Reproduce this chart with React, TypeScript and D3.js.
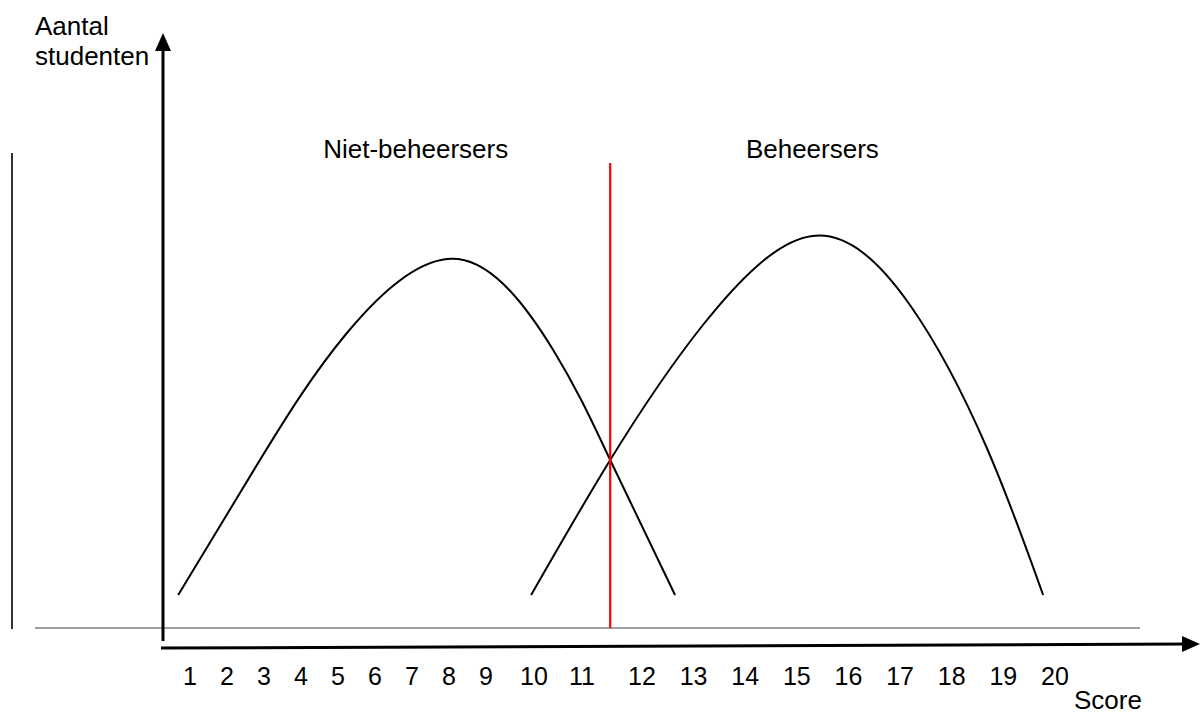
import React, { useEffect, useRef } from "react";
import * as d3 from "d3";

// score ticks along the x axis
const scoreTicks = [1, 2, 3, 4, 5, 6, 7, 8, 9, 10, 11, 12, 13, 14, 15, 16, 17, 18, 19, 20];

// "Niet-beheersers" curve (score, relative count)
const nietScore = [0.68, 2.89, 5.24, 8.25, 10.4, 11.47, 12.64];
const nietCount = [8.25, 42, 73.75, 92.25, 69.5, 42, 8.25];

// "Beheersers" curve
const beheerScore = [9.94, 11.47, 13.18, 15.3, 17.19, 18.68, 19.77];
const beheerCount = [8.25, 42, 75.75, 98, 80.75, 45, 8.25];

const cutoff = 11.47;
const groupLabels = ["Niet-beheersers", "Beheersers"];
const groupLabelScore = [7.1, 15.3];

const FONT = "'Liberation Sans', Arial, sans-serif";

const App = () => {
  const ref = useRef<SVGSVGElement>(null);

  useEffect(() => {
    const svg = d3.select(ref.current);
    svg.selectAll("*").remove();

    const width = 1200, height = 715;
    svg.attr("width", width).attr("height", height);

    // label spacing in the original is uneven, so the scale is piecewise
    const x = d3.scaleLinear().domain([1, 9, 11, 12, 20]).range([190, 486, 582, 642, 1055]);
    const y = d3.scaleLinear().domain([0, 100]).range([628, 228]);

    const g = svg.append("g");

    // stray vertical line on the far left
    g.append("line")
      .attr("x1", 12).attr("x2", 12)
      .attr("y1", 153).attr("y2", 629)
      .attr("stroke", "#000").attr("stroke-width", 1.6);

    // grey baseline
    g.append("line")
      .attr("x1", 35).attr("x2", 1140)
      .attr("y1", y(0)).attr("y2", y(0))
      .attr("stroke", "#808080").attr("stroke-width", 1.6);

    // y axis with arrow
    g.append("line")
      .attr("x1", 163).attr("x2", 163)
      .attr("y1", 641).attr("y2", 48)
      .attr("stroke", "#000").attr("stroke-width", 3);
    g.append("path")
      .attr("d", "M163,33 L155,51 L171,51 Z")
      .attr("fill", "#000");

    // x axis (slightly tilted) with arrow
    g.append("line")
      .attr("x1", 161).attr("x2", 1188)
      .attr("y1", 648).attr("y2", 644)
      .attr("stroke", "#000").attr("stroke-width", 3);
    g.append("path")
      .attr("d", "M1200,644 L1182,636 L1182,652 Z")
      .attr("fill", "#000");

    // tick labels
    g.selectAll("text.tick")
      .data(scoreTicks)
      .join("text")
      .attr("class", "tick")
      .attr("x", (d) => x(d))
      .attr("y", 685)
      .attr("text-anchor", "middle")
      .attr("font-family", FONT)
      .attr("font-size", "25px")
      .attr("fill", "#000")
      .text((d) => d);

    // curves
    const line = d3.line<[number, number]>()
      .x((d) => x(d[0]))
      .y((d) => y(d[1]))
      .curve(d3.curveNatural);

    const series = [
      nietScore.map((s, i) => [s, nietCount[i]] as [number, number]),
      beheerScore.map((s, i) => [s, beheerCount[i]] as [number, number]),
    ];

    g.selectAll("path.curve")
      .data(series)
      .join("path")
      .attr("class", "curve")
      .attr("d", (d) => line(d))
      .attr("fill", "none")
      .attr("stroke", "#000")
      .attr("stroke-width", 2);

    // cutoff score
    g.append("line")
      .attr("x1", x(cutoff)).attr("x2", x(cutoff))
      .attr("y1", y(116.25)).attr("y2", y(0))
      .attr("stroke", "#ff0000").attr("stroke-width", 2.2);

    // group labels
    g.selectAll("text.group")
      .data(groupLabels)
      .join("text")
      .attr("class", "group")
      .attr("x", (d, i) => x(groupLabelScore[i]))
      .attr("y", 158)
      .attr("text-anchor", "middle")
      .attr("font-family", FONT)
      .attr("font-size", "26px")
      .attr("fill", "#000")
      .text((d) => d);

    // axis titles
    const yTitle = g.append("text")
      .attr("font-family", FONT)
      .attr("font-size", "26px")
      .attr("fill", "#000");
    yTitle.append("tspan").attr("x", 35).attr("y", 35).text("Aantal");
    yTitle.append("tspan").attr("x", 35).attr("y", 65).text("studenten");

    g.append("text")
      .attr("x", 1074)
      .attr("y", 709)
      .attr("font-family", FONT)
      .attr("font-size", "26px")
      .attr("fill", "#000")
      .text("Score");
  }, []);

  return (
    <svg
      ref={ref}
      style={{ position: "absolute", left: 0, top: 0, background: "#fff" }}
    />
  );
};

export default App;
